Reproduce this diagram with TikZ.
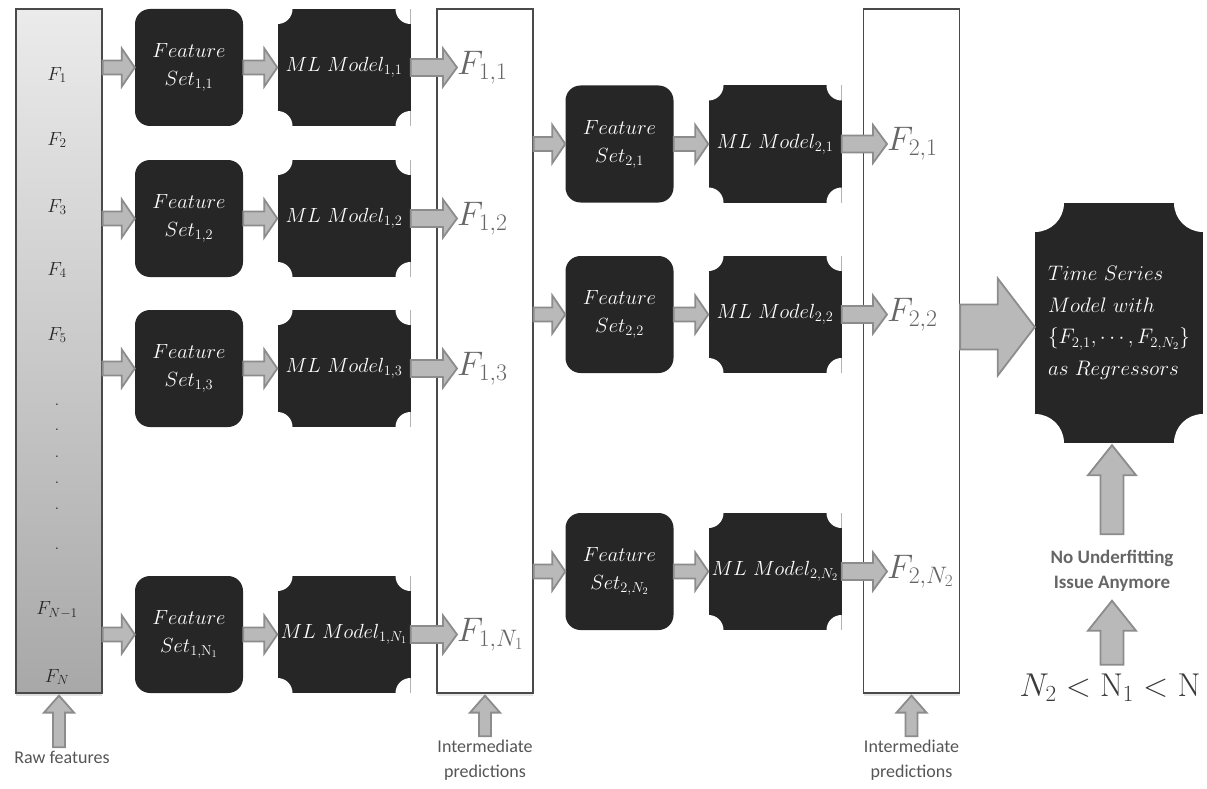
\RequirePackage{fix-cm}
\documentclass[tikz,border=0pt]{standalone}
\usepackage{fontspec}
\newfontfamily\calibri{Carlito}
\usetikzlibrary{calc,shadows}
\definecolor{boxblack}{HTML}{262626}
\definecolor{arrline}{HTML}{8C8C8C}
\definecolor{arrfill}{HTML}{B9B9B9}
\definecolor{gradtop}{HTML}{EBEBEB}
\definecolor{gradbot}{HTML}{A8A8A8}
\definecolor{framegray}{HTML}{4A4A4A}
\definecolor{labgray}{HTML}{555555}
\definecolor{fgray}{HTML}{666666}
\definecolor{boldgray}{HTML}{666666}
\definecolor{ineqgray}{HTML}{3A3A3A}
\begin{document}
\begin{tikzpicture}[x=1pt,y=-1pt,
  plaque/.style={fill=boxblack, path picture={
      \fill[white] (path picture bounding box.north west) circle[radius=#1]
                   (path picture bounding box.north east) circle[radius=#1]
                   (path picture bounding box.south west) circle[radius=#1]
                   (path picture bounding box.south east) circle[radius=#1];}},
  fsbox/.style={fill=boxblack, rounded corners=15pt, minimum width=108pt, minimum height=117pt,
      inner sep=0pt, text=white, align=center, font=\fontsize{20.5}{28}\selectfont},
  mlbox/.style={plaque=15pt, minimum width=133pt, minimum height=117pt, inner sep=0pt,
      text=white, font=\fontsize{20.5}{24}\selectfont},
  tsbox/.style={plaque=29pt, minimum width=168pt, minimum height=240pt, inner sep=0pt,
      text=white, align=left, font=\fontsize{21}{31.5}\selectfont},
  rawcol/.style={draw=framegray, line width=1.2pt, top color=gradtop, bottom color=gradbot,
      minimum width=86pt, minimum height=684pt, inner sep=0pt,
      drop shadow={shadow xshift=0pt, shadow yshift=-3pt, opacity=0.25}},
  interbox/.style={draw=framegray, line width=1.2pt, fill=white,
      minimum width=96pt, minimum height=684pt, inner sep=0pt,
      drop shadow={shadow xshift=0pt, shadow yshift=-3pt, opacity=0.2}},
  rawf/.style={text=black!85, font=\fontsize{19}{22}\selectfont, inner sep=1pt},
  flab/.style={anchor=west, inner sep=0pt, text=fgray, font=\fontsize{34}{40}\selectfont},
  sanslab/.style={text=labgray, align=center, font=\calibri\fontsize{18}{25}\selectfont},
  boldlab/.style={text=boldgray, align=center, font=\calibri\bfseries\fontsize{19}{25}\selectfont},
  ineqlab/.style={text=ineqgray, font=\fontsize{33}{40}\selectfont},
  blockarr/.style={draw=arrline, fill=arrfill, line width=1.8pt, line join=miter},
  harr/.style n args={3}{to path={let \p1=(\tikztostart), \p2=(\tikztotarget) in
      (\x1,\y2+#1) -- (\x2-#3,\y2+#1) -- (\x2-#3,\y2+#2) -- (\x2,\y2)
      -- (\x2-#3,\y2-#2) -- (\x2-#3,\y2-#1) -- (\x1,\y2-#1) -- cycle}},
  varr/.style n args={3}{to path={let \p1=(\tikztostart), \p2=(\tikztotarget) in
      (\x1-#1,\y1) -- (\x1-#1,\y2-#3) -- (\x1-#2,\y2-#3) -- (\x1,\y2)
      -- (\x1+#2,\y2-#3) -- (\x1+#1,\y2-#3) -- (\x1+#1,\y1) -- cycle}},
  inarr/.style={blockarr, harr={7pt}{19pt}{13pt}},
  outarr/.style={blockarr, harr={8.5pt}{19pt}{14pt}},
  uparr/.style={blockarr, varr={6pt}{15pt}{17pt}},
  bigup/.style={blockarr, varr={11.5pt}{24pt}{30pt}},
  bigarr/.style={blockarr, harr={22.5pt}{48.5pt}{37pt}}
]
\useasboundingbox (0,0) rectangle (1207,789);

% raw feature column
\node[rawcol] (raw) at (59,351) {};
\node[rawf] (r1) at (57,75) {$F_1$};
\node[rawf] (r2) at (57,140) {$F_2$};
\node[rawf] (r3) at (57,207) {$F_3$};
\node[rawf] (r4) at (57,270) {$F_4$};
\node[rawf] (r5) at (57,335) {$F_5$};
\node[rawf] (d1) at (57,405) {.};
\node[rawf] (d2) at (57,430) {.};
\node[rawf] (d3) at (57,457) {.};
\node[rawf] (d4) at (57,483) {.};
\node[rawf] (d5) at (57,509) {.};
\node[rawf] (d6) at (57,549) {.};
\node[rawf] (rn1) at (57,610) {$F_{N-1}$};
\node[rawf] (rn) at (57,677) {$F_N$};

% intermediate prediction columns
\node[interbox] (box1) at (485,351) {};
\node[interbox] (box2) at (911.5,351) {};

% stage 1
\node[fsbox] (fs11) at (189,67.5) {$Feature$\\$Set_{1,1}$};
\node[fsbox] (fs12) at (189,218.5) {$Feature$\\$Set_{1,2}$};
\node[fsbox] (fs13) at (189,368.5) {$Feature$\\$Set_{1,3}$};
\node[fsbox] (fs1n) at (189,634.5) {$Feature$\\$Set_{1,\mathrm{N}_1}$};
\node[mlbox] (ml11) at (344,67.5) {$ML\ Model_{1,1}$};
\node[mlbox] (ml12) at (344,218.5) {$ML\ Model_{1,2}$};
\node[mlbox] (ml13) at (344,368.5) {$ML\ Model_{1,3}$};
\node[mlbox] (ml1n) at (344,634.5) {$ML\ Model_{1,N_1}$};
\node[flab] (f11) at (457,67.5) {$F_{1,1}$};
\node[flab] (f12) at (457,218.5) {$F_{1,2}$};
\node[flab] (f13) at (457,368.5) {$F_{1,3}$};
\node[flab] (f1n) at (457,634.5) {$F_{1,N_1}$};

% stage 2
\node[fsbox] (fs21) at (619.5,144) {$Feature$\\$Set_{2,1}$};
\node[fsbox] (fs22) at (619.5,314.5) {$Feature$\\$Set_{2,2}$};
\node[fsbox] (fs2n) at (619.5,571.5) {$Feature$\\$Set_{2,N_2}$};
\node[mlbox] (ml21) at (775,144) {$ML\ Model_{2,1}$};
\node[mlbox] (ml22) at (775,314.5) {$ML\ Model_{2,2}$};
\node[mlbox] (ml2n) at (775,571.5) {$ML\ Model_{2,N_2}$};
\node[flab] (f21) at (887,144) {$F_{2,1}$};
\node[flab] (f22) at (887,314.5) {$F_{2,2}$};
\node[flab] (f2n) at (887,571.5) {$F_{2,N_2}$};

% time series model
\node[tsbox] (ts) at (1119,323) {$Time\ Series$\\$Model\ with$\\$\biggl\{F_{2,1},\cdots,F_{2,N_2}\biggr\}$\\$as\ Regressors$};

% labels
\node[sanslab] (rawlbl) at (62,757) {Raw features};
\node[sanslab] (il1) at (485,760) {Intermediate\\predictions};
\node[sanslab] (il2) at (911.5,760) {Intermediate\\predictions};
\node[boldlab] (nolbl) at (1112,570.5) {No Underfitting\\Issue Anymore};
\node[ineqlab] (ineq) at (1110,688) {$N_2<\mathrm{N}_1<\mathrm{N}$};

% stage 1 connectors
\path[inarr] (raw.east |- fs11) to (fs11.west);
\path[inarr] (raw.east |- fs12) to (fs12.west);
\path[inarr] (raw.east |- fs13) to (fs13.west);
\path[inarr] (raw.east |- fs1n) to (fs1n.west);
\path[inarr] (fs11.east) to (ml11.west);
\path[inarr] (fs12.east) to (ml12.west);
\path[inarr] (fs13.east) to (ml13.west);
\path[inarr] (fs1n.east) to (ml1n.west);
\path[outarr] (ml11.east) to (f11.west |- ml11.east);
\path[outarr] (ml12.east) to (f12.west |- ml12.east);
\path[outarr] (ml13.east) to (f13.west |- ml13.east);
\path[outarr] (ml1n.east) to (f1n.west |- ml1n.east);

% stage 2 connectors
\path[inarr] (box1.east |- fs21) to (fs21.west);
\path[inarr] (box1.east |- fs22) to (fs22.west);
\path[inarr] (box1.east |- fs2n) to (fs2n.west);
\path[inarr] (fs21.east) to (ml21.west);
\path[inarr] (fs22.east) to (ml22.west);
\path[inarr] (fs2n.east) to (ml2n.west);
\path[outarr] (ml21.east) to (f21.west |- ml21.east);
\path[outarr] (ml22.east) to (f22.west |- ml22.east);
\path[outarr] (ml2n.east) to (f2n.west |- ml2n.east);

% to the time series model
\path[bigarr] (box2.east |- ts.west) to ([yshift=-4pt]ts.west);

% vertical arrows
\path[uparr] (raw.south |- rawlbl.north) to ([yshift=-2pt]raw.south);
\path[uparr] (box1.south |- il1.north) to ([yshift=-2pt]box1.south);
\path[uparr] (box2.south |- il2.north) to ([yshift=-2pt]box2.south);
\path[bigup] ([yshift=12pt]nolbl.north) to ([yshift=-2pt]ts.south);
\path[bigup] ([yshift=6pt]nolbl.south |- ineq.north) to ([yshift=-6pt]nolbl.south);
\end{tikzpicture}
\end{document}
